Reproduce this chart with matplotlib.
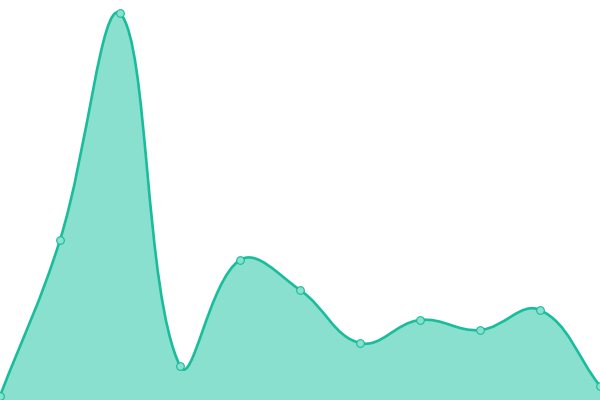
import numpy as np
import matplotlib
matplotlib.use("Agg")
import matplotlib.pyplot as plt
from matplotlib.path import Path
from matplotlib.patches import PathPatch

# data (value scale 0..400)
labels = list(range(11))
values = [4, 160, 387, 34, 140, 110, 57, 80, 70, 90, 14]

line_color = "#1abc9c"
fill_color = "#89e0cf"
tension = 0.4

fig = plt.figure(figsize=(6, 4), dpi=100)
ax = fig.add_axes([0, 0, 1, 1])
ax.set_xlim(0, len(labels) - 1)
ax.set_ylim(0, 400)
ax.axis("off")

# points in pixel space
pts = ax.transData.transform(np.column_stack([labels, values]))
n = len(pts)
x0, y0 = ax.transData.transform((0, 0))
x1, y1 = ax.transData.transform((len(labels) - 1, 400))

# spline control points (cardinal style, like chart.js)
c_prev = pts.copy()
c_next = pts.copy()
for i in range(n):
    p = pts[max(i - 1, 0)]
    c = pts[i]
    nx = pts[min(i + 1, n - 1)]
    d01 = np.hypot(*(c - p))
    d12 = np.hypot(*(nx - c))
    tot = d01 + d12
    s01 = d01 / tot if tot else 0
    s12 = d12 / tot if tot else 0
    c_prev[i] = c - tension * s01 * (nx - p)
    c_next[i] = c + tension * s12 * (nx - p)
for arr in (c_prev, c_next):
    arr[:, 0] = np.clip(arr[:, 0], x0, x1)
    arr[:, 1] = np.clip(arr[:, 1], y0, y1)

verts = [pts[0]]
codes = [Path.MOVETO]
for i in range(n - 1):
    verts += [c_next[i], c_prev[i + 1], pts[i + 1]]
    codes += [Path.CURVE4] * 3

inv = ax.transData.inverted()
curve = inv.transform(np.array(verts))

fill_verts = np.vstack([curve, [[labels[-1], 0], [labels[0], 0], curve[0]]])
fill_codes = codes + [Path.LINETO, Path.LINETO, Path.CLOSEPOLY]
ax.add_patch(PathPatch(Path(fill_verts, fill_codes), facecolor=fill_color,
                       edgecolor="none", zorder=1))
ax.add_patch(PathPatch(Path(curve, codes), facecolor="none",
                       edgecolor=line_color, linewidth=1.9, zorder=2))

ax.plot(labels, values, linestyle="none", marker="o", markersize=5.5,
        markerfacecolor=fill_color, markeredgecolor=line_color,
        markeredgewidth=0.8, zorder=3, clip_on=False)

fig.savefig("out.png", dpi=100)
